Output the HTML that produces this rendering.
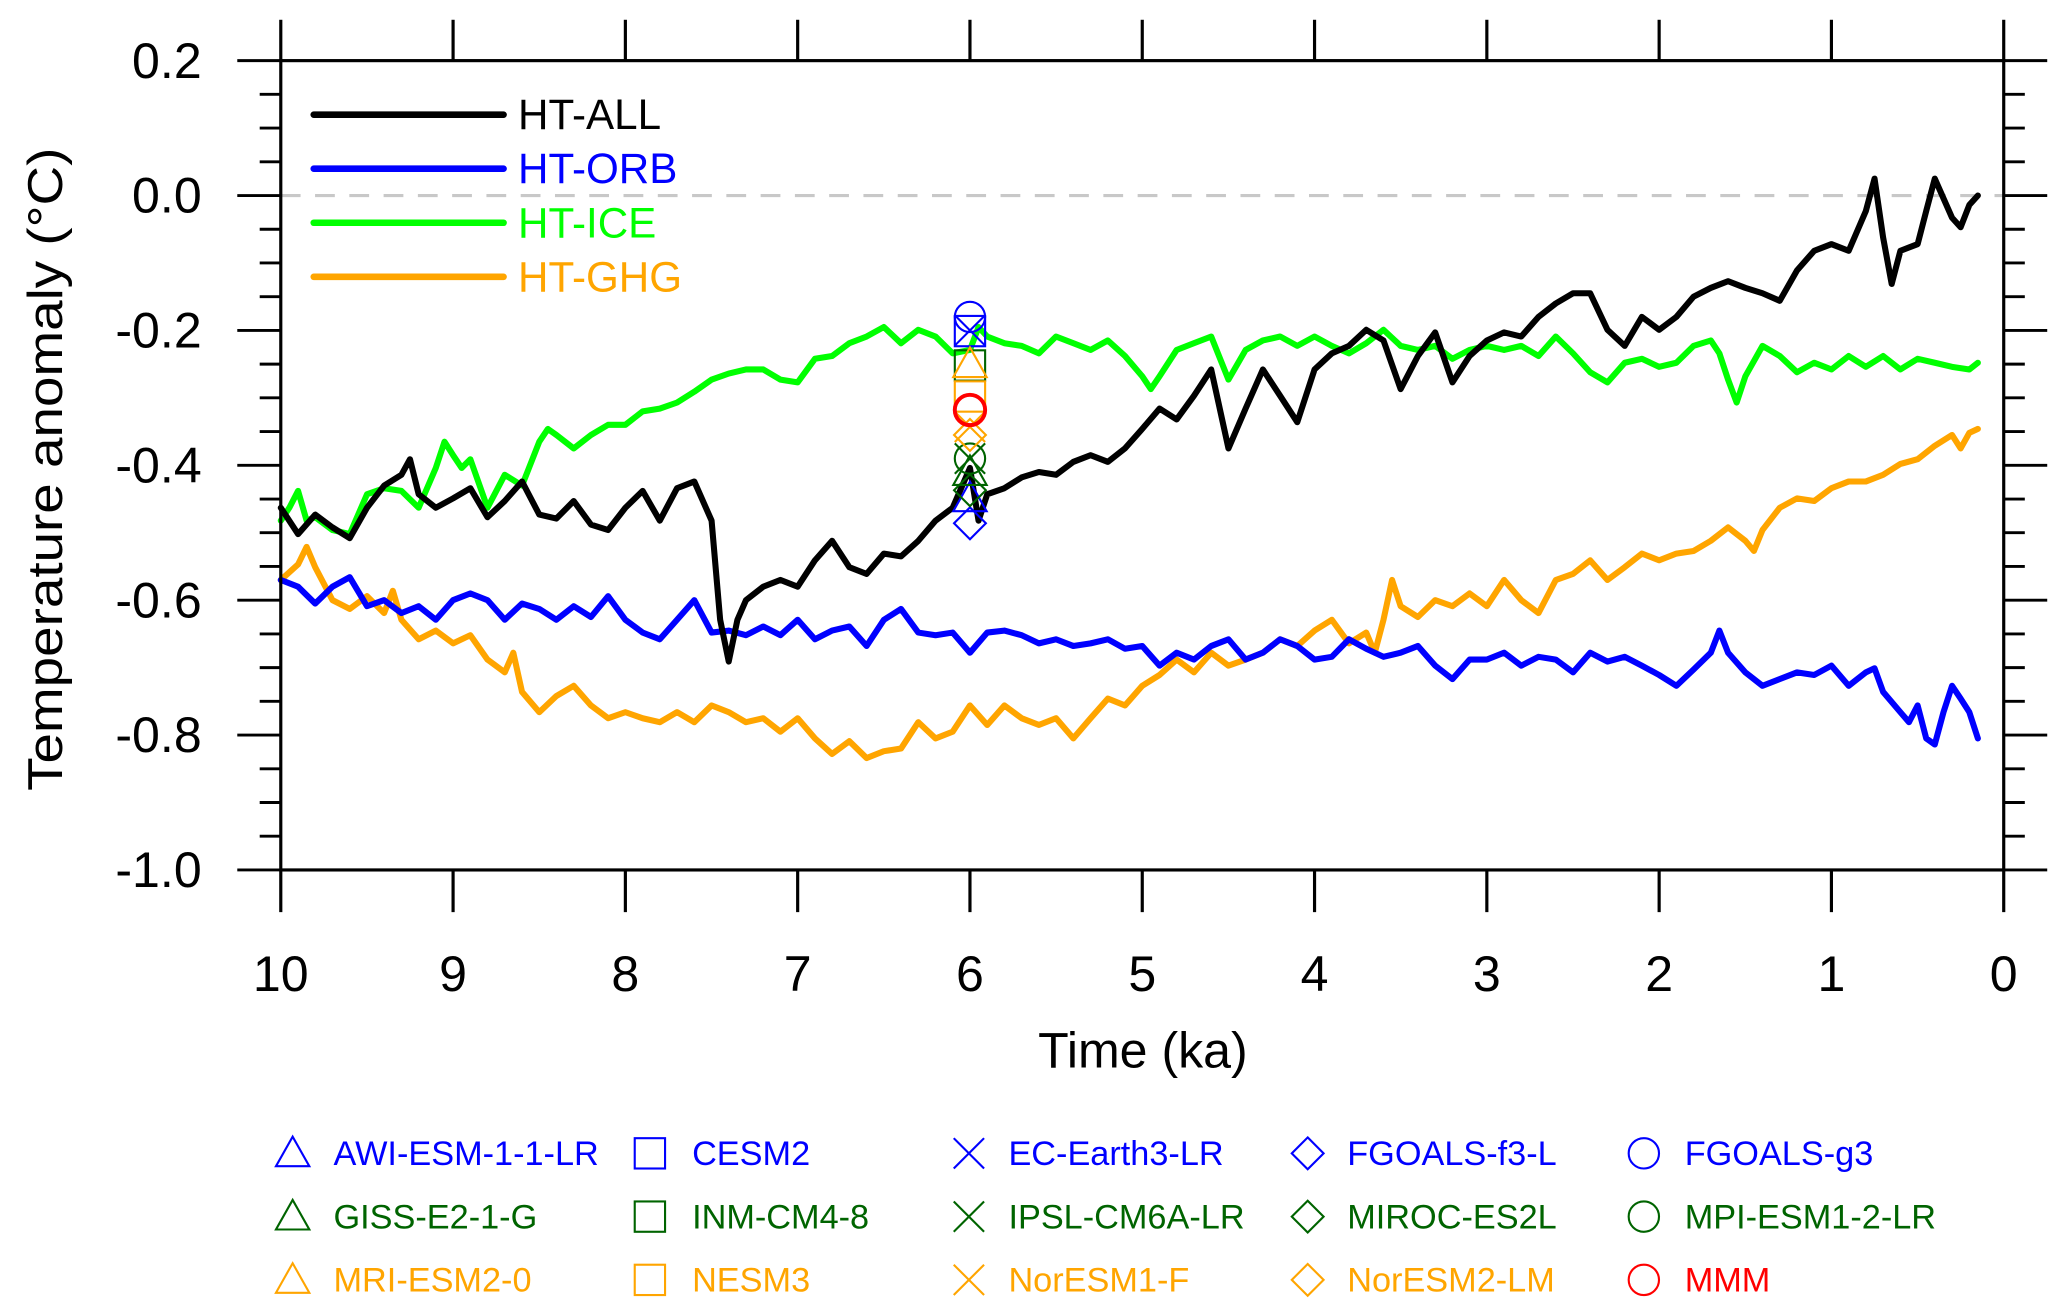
<!DOCTYPE html>
<html><head><meta charset="utf-8"><style>
html,body{margin:0;padding:0;background:#fff;}
svg{display:block;font-family:"Liberation Sans",Arial,sans-serif;}
</style></head><body>
<svg id="chart" width="2067" height="1316" viewBox="0 0 1568 998.4" preserveAspectRatio="none" xmlns="http://www.w3.org/2000/svg">
<rect x="0" y="0" width="1568" height="998.4" fill="#fff"/>
<g id="series"></g>
<g id="axes"></g>
<g id="markers"></g>
<g id="legend"></g>
</svg>
<script>
// ---- data ----
const allT=[10,9.9,9.8,9.7,9.6,9.5,9.4,9.3,9.25,9.2,9.1,9.0,8.9,8.8,8.7,8.6,8.5,8.4,8.3,8.2,8.1,8.0,7.9,7.8,7.7,7.6,7.5,7.45,7.4,7.35,7.3,7.2,7.1,7.0,6.9,6.8,6.7,6.6,6.5,6.4,6.3,6.2,6.1,6.0,5.95,5.9,5.8,5.7,5.6,5.5,5.4,5.3,5.2,5.1,5.0,4.9,4.8,4.7,4.6,4.5,4.4,4.3,4.2,4.1,4.0,3.9,3.8,3.7,3.6,3.5,3.4,3.3,3.2,3.1,3.0,2.9,2.8,2.7,2.6,2.5,2.4,2.3,2.2,2.1,2.0,1.9,1.8,1.7,1.6,1.5,1.4,1.3,1.2,1.1,1.0,0.9,0.8,0.75,0.7,0.65,0.6,0.5,0.45,0.4,0.3,0.25,0.2,0.15];
const allV=[-0.463,-0.502,-0.473,-0.492,-0.508,-0.463,-0.430,-0.414,-0.391,-0.443,-0.463,-0.449,-0.434,-0.477,-0.453,-0.424,-0.473,-0.479,-0.453,-0.488,-0.496,-0.463,-0.438,-0.482,-0.434,-0.424,-0.482,-0.629,-0.691,-0.629,-0.600,-0.580,-0.570,-0.580,-0.541,-0.512,-0.551,-0.561,-0.531,-0.535,-0.512,-0.482,-0.463,-0.404,-0.482,-0.443,-0.434,-0.418,-0.410,-0.414,-0.395,-0.385,-0.395,-0.375,-0.346,-0.316,-0.332,-0.297,-0.258,-0.375,-0.316,-0.258,-0.297,-0.336,-0.258,-0.234,-0.223,-0.199,-0.215,-0.287,-0.238,-0.203,-0.277,-0.238,-0.215,-0.203,-0.209,-0.180,-0.160,-0.145,-0.145,-0.199,-0.223,-0.180,-0.199,-0.180,-0.150,-0.137,-0.127,-0.137,-0.145,-0.156,-0.111,-0.082,-0.072,-0.082,-0.023,0.025,-0.062,-0.131,-0.082,-0.072,-0.023,0.025,-0.033,-0.047,-0.014,0.0];
const iceT=[10,9.95,9.9,9.85,9.8,9.7,9.6,9.5,9.4,9.3,9.2,9.1,9.05,9.0,8.95,8.9,8.8,8.7,8.6,8.5,8.45,8.4,8.3,8.2,8.1,8.0,7.9,7.8,7.7,7.6,7.5,7.4,7.3,7.2,7.1,7.0,6.9,6.8,6.7,6.6,6.5,6.4,6.3,6.2,6.1,6.0,5.95,5.9,5.8,5.7,5.6,5.5,5.4,5.3,5.2,5.1,5.0,4.95,4.9,4.8,4.7,4.6,4.5,4.4,4.3,4.2,4.1,4.0,3.9,3.8,3.7,3.6,3.5,3.4,3.3,3.2,3.1,3.0,2.9,2.8,2.7,2.6,2.5,2.4,2.3,2.2,2.1,2.0,1.9,1.8,1.7,1.65,1.6,1.55,1.5,1.4,1.3,1.2,1.1,1.0,0.9,0.8,0.7,0.6,0.5,0.4,0.3,0.2,0.15];
const iceV=[-0.482,-0.463,-0.438,-0.482,-0.477,-0.496,-0.502,-0.443,-0.434,-0.438,-0.463,-0.404,-0.365,-0.385,-0.404,-0.391,-0.463,-0.414,-0.430,-0.365,-0.346,-0.355,-0.375,-0.355,-0.340,-0.340,-0.320,-0.316,-0.307,-0.291,-0.273,-0.264,-0.258,-0.258,-0.273,-0.277,-0.242,-0.238,-0.219,-0.209,-0.195,-0.219,-0.199,-0.209,-0.234,-0.229,-0.195,-0.209,-0.219,-0.223,-0.234,-0.209,-0.219,-0.229,-0.215,-0.238,-0.268,-0.287,-0.268,-0.229,-0.219,-0.209,-0.273,-0.229,-0.215,-0.209,-0.223,-0.209,-0.223,-0.234,-0.219,-0.199,-0.223,-0.229,-0.223,-0.242,-0.229,-0.223,-0.229,-0.223,-0.238,-0.209,-0.234,-0.262,-0.277,-0.248,-0.242,-0.254,-0.248,-0.223,-0.215,-0.234,-0.273,-0.307,-0.268,-0.223,-0.238,-0.262,-0.248,-0.258,-0.238,-0.254,-0.238,-0.258,-0.242,-0.248,-0.254,-0.258,-0.248];
const orbT=[10,9.9,9.8,9.7,9.6,9.5,9.4,9.3,9.2,9.1,9.0,8.9,8.8,8.7,8.6,8.5,8.4,8.3,8.2,8.1,8.0,7.9,7.8,7.7,7.6,7.5,7.4,7.3,7.2,7.1,7.0,6.9,6.8,6.7,6.6,6.5,6.4,6.3,6.2,6.1,6.0,5.9,5.8,5.7,5.6,5.5,5.4,5.3,5.2,5.1,5.0,4.9,4.8,4.7,4.6,4.5,4.4,4.3,4.2,4.1,4.0,3.9,3.8,3.7,3.6,3.5,3.4,3.3,3.2,3.1,3.0,2.9,2.8,2.7,2.6,2.5,2.4,2.3,2.2,2.1,2.0,1.9,1.8,1.7,1.65,1.6,1.5,1.4,1.3,1.2,1.1,1.0,0.9,0.8,0.75,0.7,0.6,0.55,0.5,0.45,0.4,0.35,0.3,0.25,0.2,0.15];
const orbV=[-0.570,-0.580,-0.605,-0.580,-0.566,-0.609,-0.600,-0.619,-0.609,-0.629,-0.600,-0.590,-0.600,-0.629,-0.605,-0.613,-0.629,-0.609,-0.625,-0.594,-0.629,-0.648,-0.658,-0.629,-0.600,-0.648,-0.645,-0.652,-0.639,-0.652,-0.629,-0.658,-0.645,-0.639,-0.668,-0.629,-0.613,-0.648,-0.652,-0.648,-0.678,-0.648,-0.645,-0.652,-0.664,-0.658,-0.668,-0.664,-0.658,-0.672,-0.668,-0.697,-0.678,-0.688,-0.668,-0.658,-0.688,-0.678,-0.658,-0.668,-0.688,-0.684,-0.658,-0.672,-0.684,-0.678,-0.668,-0.697,-0.717,-0.688,-0.688,-0.678,-0.697,-0.684,-0.688,-0.707,-0.678,-0.691,-0.684,-0.697,-0.711,-0.727,-0.703,-0.678,-0.645,-0.678,-0.707,-0.727,-0.717,-0.707,-0.711,-0.697,-0.727,-0.707,-0.701,-0.736,-0.766,-0.781,-0.756,-0.805,-0.814,-0.766,-0.727,-0.746,-0.766,-0.805];
const ghgT=[10,9.9,9.85,9.8,9.7,9.6,9.5,9.4,9.35,9.3,9.2,9.1,9.0,8.9,8.8,8.7,8.65,8.6,8.5,8.4,8.3,8.2,8.1,8.0,7.9,7.8,7.7,7.6,7.5,7.4,7.3,7.2,7.1,7.0,6.9,6.8,6.7,6.6,6.5,6.4,6.3,6.2,6.1,6.0,5.9,5.8,5.7,5.6,5.5,5.4,5.3,5.2,5.1,5.0,4.9,4.8,4.7,4.6,4.5,4.4,4.3,4.2,4.1,4.0,3.9,3.8,3.7,3.65,3.6,3.55,3.5,3.4,3.3,3.2,3.1,3.0,2.9,2.8,2.7,2.6,2.5,2.4,2.3,2.2,2.1,2.0,1.9,1.8,1.7,1.6,1.5,1.45,1.4,1.3,1.2,1.1,1.0,0.9,0.8,0.7,0.6,0.5,0.4,0.3,0.25,0.2,0.15];
const ghgV=[-0.570,-0.547,-0.521,-0.551,-0.600,-0.613,-0.594,-0.619,-0.586,-0.629,-0.658,-0.645,-0.664,-0.652,-0.688,-0.707,-0.678,-0.736,-0.766,-0.742,-0.727,-0.756,-0.775,-0.766,-0.775,-0.781,-0.766,-0.781,-0.756,-0.766,-0.781,-0.775,-0.795,-0.775,-0.805,-0.828,-0.809,-0.834,-0.824,-0.820,-0.781,-0.805,-0.795,-0.756,-0.785,-0.756,-0.775,-0.785,-0.775,-0.805,-0.775,-0.746,-0.756,-0.727,-0.711,-0.688,-0.707,-0.678,-0.697,-0.688,-0.678,-0.658,-0.668,-0.645,-0.629,-0.664,-0.648,-0.678,-0.629,-0.570,-0.609,-0.625,-0.600,-0.609,-0.590,-0.609,-0.570,-0.600,-0.619,-0.570,-0.561,-0.541,-0.570,-0.551,-0.531,-0.541,-0.531,-0.527,-0.512,-0.492,-0.512,-0.527,-0.496,-0.463,-0.449,-0.453,-0.434,-0.424,-0.424,-0.414,-0.398,-0.391,-0.371,-0.355,-0.375,-0.352,-0.346];
// model values at 6 ka
const modelNames=["AWI-ESM-1-1-LR","CESM2","EC-Earth3-LR","FGOALS-f3-L","FGOALS-g3","GISS-E2-1-G","INM-CM4-8","IPSL-CM6A-LR","MIROC-ES2L","MPI-ESM1-2-LR","MRI-ESM2-0","NESM3","NorESM1-F","NorESM2-LM","MMM"];
const modelValues=[-0.449,-0.201,-0.200,-0.486,-0.180,-0.410,-0.252,-0.390,-0.437,-0.390,-0.250,-0.298,-0.343,-0.355,-0.318];
const modelShapes=["tri","sq","x","dia","circ","tri","sq","x","dia","circ","tri","sq","x","dia","circ"];
const modelColors=["#0000ff","#0000ff","#0000ff","#0000ff","#0000ff","#006400","#006400","#006400","#006400","#006400","#ffa500","#ffa500","#ffa500","#ffa500","#ff0000"];
const xTicks=[10,9,8,7,6,5,4,3,2,1,0];
const yTicks=[0.2,0.0,-0.2,-0.4,-0.6,-0.8,-1.0];
const yTickLabels=["0.2","0.0","-0.2","-0.4","-0.6","-0.8","-1.0"];

// ---- geometry ----
const L=213,R=1520,T=46,B=660;
const X=t=>L+(10-t)*(R-L)/10;
const Y=v=>T+(0.2-v)*(B-T)/1.2;
const NS="http://www.w3.org/2000/svg";
function mk(tag,parent,attrs){const e=document.createElementNS(NS,tag);for(const k in attrs)e.setAttribute(k,attrs[k]);parent.appendChild(e);return e;}
const gS=document.getElementById('series'),gA=document.getElementById('axes'),gM=document.getElementById('markers'),gL=document.getElementById('legend');

let z=mk('line',gS,{x1:L,x2:R,y1:Y(0),y2:Y(0),stroke:'#c8c8c8','stroke-width':2.4,'stroke-dasharray':'15 11'});



const series=[[ghgT,ghgV,'#ffa500','series-ht-ghg'],[orbT,orbV,'#0000ff','series-ht-orb'],[iceT,iceV,'#00ff00','series-ht-ice'],[allT,allV,'#000000','series-ht-all']];
series.forEach(s=>{
  const d=s[0].map((t,i)=>(i?'L':'M')+X(t).toFixed(1)+' '+Y(s[1][i]).toFixed(1)).join(' ');
  const p=mk('path',gS,{d:d,fill:'none',stroke:s[2],'stroke-width':4.6,'stroke-linejoin':'round','stroke-linecap':'round'});
  
  
});

const fr=mk('rect',gA,{x:L,y:T,width:R-L,height:B-T,fill:'none',stroke:'#000','stroke-width':2.4});


xTicks.forEach(t=>{
  const x=X(t);
  mk('line',gA,{x1:x,x2:x,y1:T,y2:T-31,stroke:'#000','stroke-width':2.4});
  mk('line',gA,{x1:x,x2:x,y1:B,y2:B+32,stroke:'#000','stroke-width':2.4});
  const tx=mk('text',gA,{x:x,y:752,'font-size':38,'text-anchor':'middle',fill:'#000'});
  tx.textContent=String(t);
  
  
});
for(let k=0;k<=24;k++){
  const v=0.2-k*0.05, y=Y(v), major=(k%4===0);
  const len=major?33:16;
  mk('line',gA,{x1:L-len,x2:L,y1:y,y2:y,stroke:'#000','stroke-width':2.2});
  mk('line',gA,{x1:R,x2:R+len,y1:y,y2:y,stroke:'#000','stroke-width':2.2});
}
yTicks.forEach((v,i)=>{
  const tx=mk('text',gA,{x:153,y:Y(v)+13,'font-size':38,'text-anchor':'end',fill:'#000'});
  tx.textContent=yTickLabels[i];
  
  
});
let xt=mk('text',gA,{x:867,y:810,'font-size':38,'text-anchor':'middle',fill:'#000'});
xt.textContent='Time (ka)';


let yt=mk('text',gA,{x:0,y:0,'font-size':37,'text-anchor':'middle',fill:'#000',transform:'translate(47,356) rotate(-90)',textLength:488,lengthAdjust:'spacingAndGlyphs'});
yt.textContent='Temperature anomaly (°C)';



function marker(g,shape,cx,cy,col,r){
  const a={fill:'none',stroke:col,'stroke-width':1.6};
  if(shape==='circ') return mk('circle',g,Object.assign({cx:cx,cy:cy,r:r},a));
  if(shape==='sq') return mk('rect',g,Object.assign({x:cx-r,y:cy-r,width:2*r,height:2*r},a));
  if(shape==='tri') return mk('path',g,Object.assign({d:`M${cx} ${cy-r*1.1} L${cx+r*1.1} ${cy+r*0.85} L${cx-r*1.1} ${cy+r*0.85} Z`},a));
  if(shape==='dia') return mk('path',g,Object.assign({d:`M${cx} ${cy-r*1.05} L${cx+r*1.05} ${cy} L${cx} ${cy+r*1.05} L${cx-r*1.05} ${cy} Z`},a));
  return mk('path',g,Object.assign({d:`M${cx-r} ${cy-r} L${cx+r} ${cy+r} M${cx+r} ${cy-r} L${cx-r} ${cy+r}`},a));
}
modelValues.forEach((v,i)=>{
  const m=marker(gM,modelShapes[i],X(6),Y(v),modelColors[i],11.5);
  if(i===14) m.setAttribute('stroke-width',3);
  
  
});

const lineLeg=[['HT-ALL','#000000'],['HT-ORB','#0000ff'],['HT-ICE','#00ff00'],['HT-GHG','#ffa500']];
lineLeg.forEach((e,i)=>{
  const y=87+i*41;
  const g=mk('g',gL,{});
  
  
  mk('line',g,{x1:238,x2:382,y1:y,y2:y,stroke:e[1],'stroke-width':5,'stroke-linecap':'round'});
  const t=mk('text',g,{x:393,y:y+11,'font-size':32,fill:e[1]});
  t.textContent=e[0];
});
const colMX=[222,493,735,992,1247],colTX=[253,525,765,1022,1278],rowY=[875,923,971];
modelNames.forEach((n,i)=>{
  const r=Math.floor(i/5),c=i%5;
  const g=mk('g',gL,{});
  
  
  marker(g,modelShapes[i],colMX[c],rowY[r],modelColors[i],11.5);
  const t=mk('text',g,{x:colTX[c],y:rowY[r]+9,'font-size':26,fill:modelColors[i]});
  t.textContent=n;
});
</script>
</body></html>
